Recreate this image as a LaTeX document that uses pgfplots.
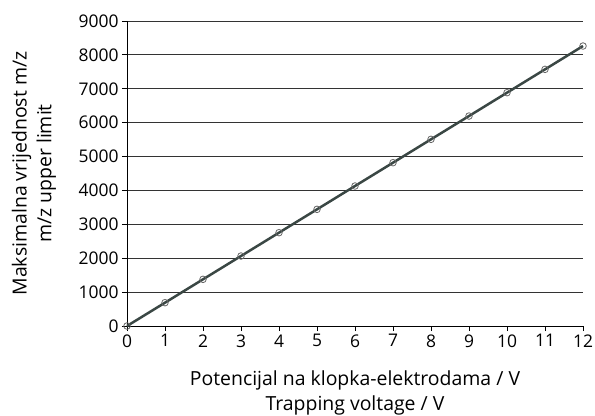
\documentclass[border=0pt]{standalone}
\usepackage{pgfplots}
\pgfplotsset{compat=1.18}
\usepackage{fontspec}
\setmainfont{Open Sans}
\definecolor{linec}{HTML}{3A4744}
\begin{document}
\begin{tikzpicture}
\useasboundingbox (-127bp,-90bp) rectangle (468bp,326bp);
\begin{axis}[
  scale only axis,
  width=456bp, height=305bp,
  xmin=0, xmax=12, ymin=0, ymax=9000,
  xtick={0,1,...,12},
  ytick={0,1000,...,9000},
  axis x line*=bottom, axis y line*=left,
  axis line style={black, line width=0.9pt, -},
  tick align=outside,
  major tick length=5bp,
  tick style={black, line width=0.8pt},
  ymajorgrids,
  major grid style={black!80, line width=0.8pt},
  /pgf/number format/assume math mode=true,
  /pgf/number format/1000 sep={},
  tick label style={font=\fontsize{17.5}{19}\selectfont},
  label style={font=\fontsize{19.5}{25}\selectfont, align=center},
  xlabel={Potencijal na klopka-elektrodama / V\\Trapping voltage / V},
  ylabel={Maksimalna vrijednost m/z\\m/z upper limit},
  xlabel style={at={(axis description cs:0.5,0)}, anchor=center, yshift=-67bp},
  ylabel style={at={(axis description cs:0,0.5)}, anchor=center, yshift=93bp},
  clip=false,
]
\addplot[color=linec, line width=2.5pt, mark=o, mark size=3.3bp, mark options={line width=0.8pt, color=black!60, fill=white}]
coordinates {
(0,0) (1,688) (2,1377) (3,2065) (4,2754) (5,3442) (6,4131) (7,4819) (8,5508) (9,6196) (10,6885) (11,7573) (12,8262)
};
\end{axis}
\end{tikzpicture}
\end{document}
